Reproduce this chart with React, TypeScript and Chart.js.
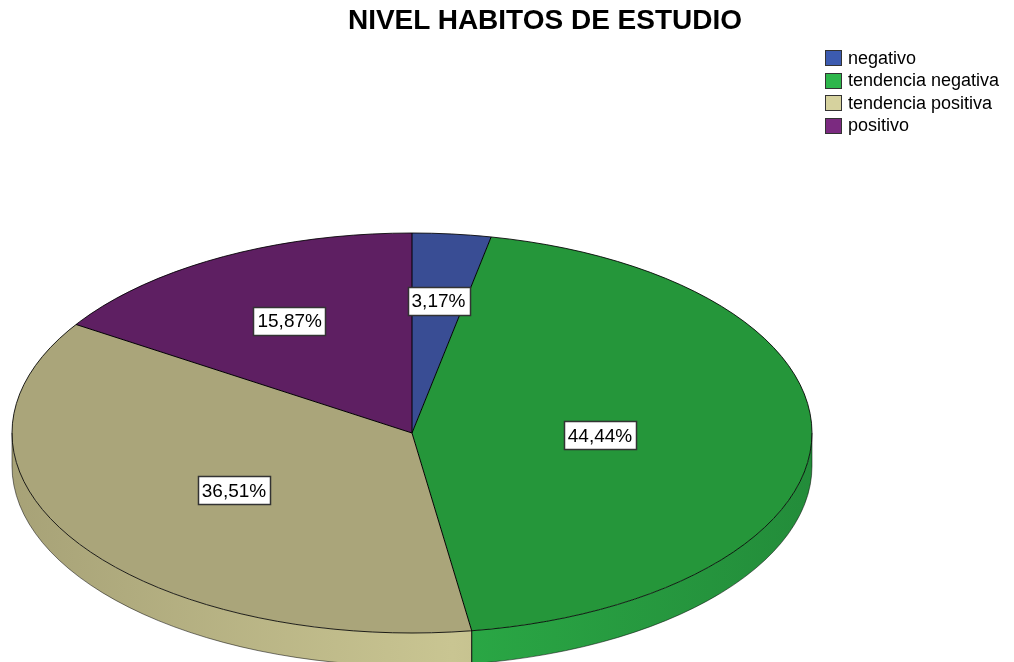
import React, { useEffect, useRef } from "react";
import { Chart, registerables } from "chart.js";

Chart.register(...registerables);

const TITLE = "NIVEL HABITOS DE ESTUDIO";
const categories = ["negativo", "tendencia negativa", "tendencia positiva", "positivo"];
const values = [3.17, 44.44, 36.51, 15.87];
const topColors = ["#394d94", "#25963a", "#aaa57a", "#5e1f62"];
const sideLight = ["#4560b0", "#2aa845", "#c9c592", "#7a2a80"];
const sideDark = ["#34478a", "#238c3a", "#a7a277", "#5a1d5e"];
const legendColors = ["#3c5bb0", "#2db64b", "#d6d29e", "#7b2a80"];

const SX = 2; // horizontal stretch of the pie (ellipse)
const DEPTH = 33; // thickness of the 3D side
const FONT = '"Liberation Sans", Arial, sans-serif';

const fmt = (v: number) => v.toFixed(2).replace(".", ",") + "%";

const pie3d = {
  id: "pie3d",
  beforeDatasetsDraw(chart: any) {
    const arcs = chart.getDatasetMeta(0).data;
    if (!arcs.length) return;
    const ctx = chart.ctx as CanvasRenderingContext2D;
    const cx = arcs[0].x;
    const cy = arcs[0].y;
    const r = arcs[0].outerRadius;
    ctx.save();
    ctx.translate(cx, cy);
    ctx.scale(SX, 1);
    ctx.translate(-cx, -cy);
    arcs.forEach((arc: any, i: number) => {
      const { startAngle, endAngle } = arc.getProps(["startAngle", "endAngle"], true);
      const ranges = [
        [-2 * Math.PI, -Math.PI],
        [0, Math.PI],
        [2 * Math.PI, 3 * Math.PI],
      ];
      for (const [lo, hi] of ranges) {
        const a0 = Math.max(startAngle, lo);
        const a1 = Math.min(endAngle, hi);
        if (a1 <= a0) continue;
        ctx.beginPath();
        ctx.arc(cx, cy, r, a0, a1);
        ctx.arc(cx, cy + DEPTH, r, a1, a0, true);
        ctx.closePath();
        const g = ctx.createLinearGradient(cx - r, 0, cx + r, 0);
        g.addColorStop(0, sideDark[i]);
        g.addColorStop(0.55, sideLight[i]);
        g.addColorStop(1, sideDark[i]);
        ctx.fillStyle = g;
        ctx.fill();
      }
    });
    ctx.restore();
    // stretch the library's own pie slices into an ellipse
    ctx.save();
    ctx.translate(cx, cy);
    ctx.scale(SX, 1);
    ctx.translate(-cx, -cy);
  },
  afterDatasetsDraw(chart: any) {
    const arcs = chart.getDatasetMeta(0).data;
    if (!arcs.length) return;
    const ctx = chart.ctx as CanvasRenderingContext2D;
    ctx.restore();
    const cx = arcs[0].x;
    const cy = arcs[0].y;
    const r = arcs[0].outerRadius;
    const rx = r * SX;

    ctx.save();
    ctx.strokeStyle = "rgba(0,0,0,0.85)";
    ctx.lineWidth = 1;
    // top rim
    ctx.beginPath();
    ctx.ellipse(cx, cy, rx, r, 0, 0, 2 * Math.PI);
    ctx.stroke();
    // bottom rim of side
    ctx.strokeStyle = "rgba(0,0,0,0.5)";
    ctx.beginPath();
    ctx.ellipse(cx, cy + DEPTH, rx, r, 0, 0, Math.PI);
    ctx.stroke();
    ctx.beginPath();
    ctx.moveTo(cx - rx, cy);
    ctx.lineTo(cx - rx, cy + DEPTH);
    ctx.moveTo(cx + rx, cy);
    ctx.lineTo(cx + rx, cy + DEPTH);
    ctx.stroke();
    // slice boundaries
    ctx.strokeStyle = "#000";
    arcs.forEach((arc: any) => {
      const { startAngle } = arc.getProps(["startAngle"], true);
      const px = cx + rx * Math.cos(startAngle);
      const py = cy + r * Math.sin(startAngle);
      ctx.beginPath();
      ctx.moveTo(cx, cy);
      ctx.lineTo(px, py);
      if (Math.sin(startAngle) > 0.02) ctx.lineTo(px, py + DEPTH);
      ctx.stroke();
    });
    ctx.restore();

    // value labels at each slice's centroid
    ctx.save();
    ctx.font = `19px ${FONT}`;
    ctx.textAlign = "center";
    ctx.textBaseline = "middle";
    arcs.forEach((arc: any, i: number) => {
      const { startAngle, endAngle } = arc.getProps(["startAngle", "endAngle"], true);
      const half = (endAngle - startAngle) / 2;
      const mid = (startAngle + endAngle) / 2;
      const d = (r * 2 * Math.sin(half)) / (3 * half);
      const lx = cx + SX * d * Math.cos(mid);
      const ly = cy + d * Math.sin(mid);
      const text = fmt(chart.data.datasets[0].data[i]);
      const w = ctx.measureText(text).width + 8;
      const h = 28;
      ctx.fillStyle = "#fff";
      ctx.fillRect(Math.round(lx - w / 2) + 0.5, Math.round(ly - h / 2) + 0.5, Math.round(w), h);
      ctx.strokeStyle = "#333";
      ctx.lineWidth = 1.5;
      ctx.strokeRect(Math.round(lx - w / 2) + 0.5, Math.round(ly - h / 2) + 0.5, Math.round(w), h);
      ctx.fillStyle = "#000";
      ctx.fillText(text, lx, ly + 1);
    });
    ctx.restore();
  },
};

export default function App() {
  const ref = useRef<HTMLCanvasElement>(null);
  useEffect(() => {
    if (!ref.current) return;
    const chart = new Chart(ref.current, {
      type: "pie",
      data: {
        labels: categories,
        datasets: [
          {
            data: values,
            backgroundColor: topColors,
            borderWidth: 0,
            hoverOffset: 0,
            offset: 0,
          },
        ],
      },
      options: {
        animation: false,
        responsive: false,
        devicePixelRatio: 1,
        events: [],
        layout: { padding: { left: 212, right: 402, top: 233, bottom: 29 } },
        plugins: {
          legend: { display: false },
          tooltip: { enabled: false },
          title: { display: false },
        },
      },
      plugins: [pie3d],
    });
    return () => chart.destroy();
  }, []);

  return (
    <div style={{ position: "fixed", left: 0, top: 0, width: 1014, height: 662, background: "#fff" }}>
      <canvas ref={ref} width={1014} height={662} style={{ position: "absolute", left: 0, top: 0 }} />
      <div
        style={{
          position: "absolute",
          left: 545,
          top: 4,
          transform: "translateX(-50%)",
          whiteSpace: "nowrap",
          font: `bold 28px ${FONT}`,
          lineHeight: "32px",
          color: "#000",
        }}
      >
        {TITLE}
      </div>
      <div style={{ position: "absolute", left: 825, top: 47 }}>
        {categories.map((c, i) => (
          <div
            key={c}
            style={{ display: "flex", alignItems: "center", height: 22.5, font: `18px ${FONT}`, color: "#000" }}
          >
            <span
              style={{
                display: "inline-block",
                width: 15,
                height: 14,
                background: legendColors[i],
                border: "1px solid #333",
                marginRight: 6,
              }}
            />
            <span>{c}</span>
          </div>
        ))}
      </div>
    </div>
  );
}
